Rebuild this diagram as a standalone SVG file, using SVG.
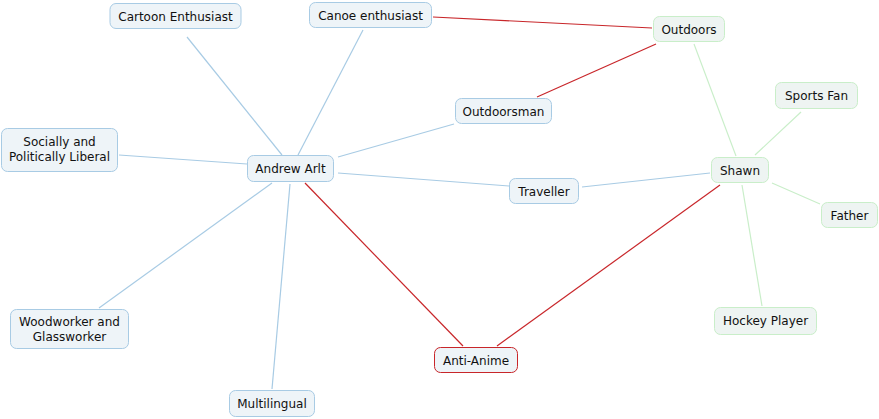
<svg xmlns="http://www.w3.org/2000/svg" width="879" height="419" viewBox="0 0 879 419">
<style>
.b rect{fill:#eef4f8;stroke:#a8cbe4;stroke-width:1}
.g rect{fill:#eef4f2;stroke:#c9eec9;stroke-width:1}
.r rect{fill:#eef4f8;stroke:#c8262a;stroke-width:1}
text{font-family:"DejaVu Sans",Verdana,sans-serif;font-size:12px;fill:#111;text-anchor:middle}
.eb{stroke:#a8cbe4;stroke-width:1.2;fill:none}
.eg{stroke:#c9eec9;stroke-width:1.2;fill:none}
.er{stroke:#c8262a;stroke-width:1.2;fill:none}
</style>
<rect width="879" height="419" fill="#fff"/>
<g id="connectors">
<line class="eb" x1="282" y1="155" x2="187" y2="37"/>
<line class="eb" x1="298" y1="155" x2="363" y2="30"/>
<line class="eb" x1="119" y1="155" x2="247" y2="164"/>
<line class="eb" x1="99" y1="308" x2="272" y2="183"/>
<line class="eb" x1="290" y1="184" x2="272" y2="389"/>
<line class="eb" x1="338" y1="157" x2="454" y2="124"/>
<line class="eb" x1="338" y1="173" x2="509" y2="186"/>
<line class="eb" x1="582" y1="187" x2="710" y2="173"/>
<line class="er" x1="305" y1="183" x2="463" y2="346"/>
<line class="er" x1="720" y1="185" x2="497" y2="346"/>
<line class="er" x1="433" y1="17" x2="652" y2="28"/>
<line class="er" x1="537" y1="97" x2="656" y2="44"/>
<line class="eg" x1="694" y1="44" x2="736" y2="156"/>
<line class="eg" x1="755" y1="155" x2="801" y2="112"/>
<line class="eg" x1="772" y1="183" x2="820" y2="204"/>
<line class="eg" x1="742" y1="185" x2="762" y2="306"/>
</g>
<g id="cartoon" class="b"><rect x="110" y="3.5" width="131" height="25" rx="6"/><text x="175.5" y="20.5">Cartoon Enthusiast</text></g>
<g id="canoe" class="b"><rect x="309.5" y="2.5" width="122" height="25" rx="6"/><text x="370.5" y="19.5">Canoe enthusiast</text></g>
<g id="liberal" class="b"><rect x="1.5" y="128.5" width="116" height="43" rx="6"/><text x="59.5" y="146">Socially and</text><text x="59.5" y="161">Politically Liberal</text></g>
<g id="andrew" class="b"><rect x="247.5" y="155.5" width="86" height="26" rx="6"/><text x="290.5" y="172.5">Andrew Arlt</text></g>
<g id="outdoorsman" class="b"><rect x="455.5" y="98.5" width="96" height="25" rx="6"/><text x="503.5" y="115.5">Outdoorsman</text></g>
<g id="traveller" class="b"><rect x="509.5" y="178.5" width="69" height="25" rx="6"/><text x="544" y="195.5">Traveller</text></g>
<g id="woodworker" class="b"><rect x="10.5" y="309.5" width="118" height="39" rx="6"/><text x="69.5" y="326">Woodworker and</text><text x="69.5" y="341">Glassworker</text></g>
<g id="multilingual" class="b"><rect x="229.5" y="390.5" width="85" height="26" rx="6"/><text x="272" y="407.5">Multilingual</text></g>
<g id="antianime" class="r"><rect x="434.5" y="347.5" width="83" height="25" rx="6"/><text x="476" y="364.5">Anti-Anime</text></g>
<g id="outdoors" class="g"><rect x="653.5" y="16.5" width="71" height="25" rx="6"/><text x="689" y="33.5">Outdoors</text></g>
<g id="shawn" class="g"><rect x="711.5" y="157.5" width="57" height="25" rx="6"/><text x="740" y="174.5">Shawn</text></g>
<g id="sportsfan" class="g"><rect x="775.5" y="82.5" width="82" height="26" rx="6"/><text x="816.5" y="99.5">Sports Fan</text></g>
<g id="father" class="g"><rect x="821.5" y="202.5" width="56" height="25" rx="6"/><text x="849.5" y="219.5">Father</text></g>
<g id="hockey" class="g"><rect x="714.5" y="307.5" width="102" height="27" rx="6"/><text x="765.5" y="325">Hockey Player</text></g>
</svg>
